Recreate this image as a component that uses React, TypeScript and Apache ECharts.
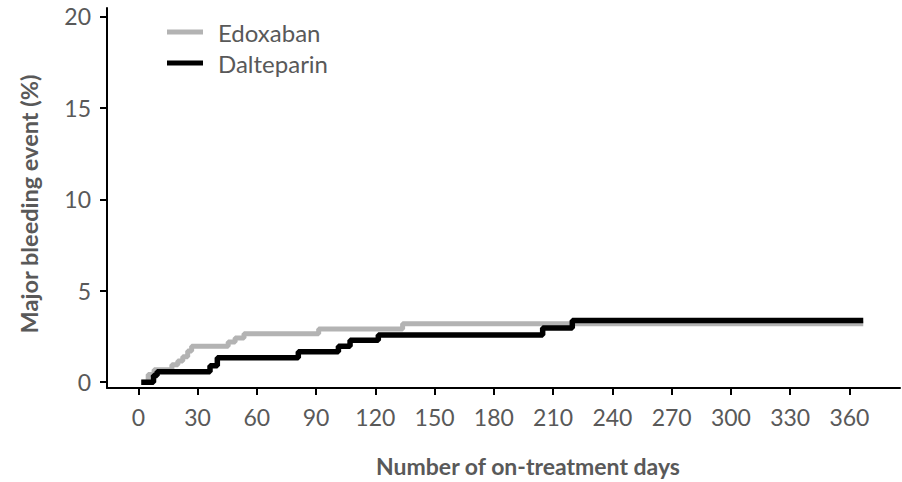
import React, { useEffect, useRef } from "react";
import * as echarts from "echarts";

const seriesNames = ["Edoxaban", "Dalteparin"];
const edoxabanDays = [1.5, 5, 8, 17, 20, 22.5, 25, 27, 45.5, 49, 53.5, 91.3, 133.8, 367];
const edoxabanValues = [0, 0.42, 0.68, 0.95, 1.16, 1.39, 1.7, 1.96, 2.2, 2.41, 2.64, 2.91, 3.2, 3.2];
const dalteparinDays = [1.5, 7.7, 9.5, 36.3, 40, 81, 101.3, 107.2, 121.5, 204.7, 219.7, 367];
const dalteparinValues = [0, 0.36, 0.57, 0.89, 1.34, 1.66, 1.96, 2.29, 2.58, 2.96, 3.37, 3.37];
const xTicks = [0, 30, 60, 90, 120, 150, 180, 210, 240, 270, 300, 330, 360];
const yTicks = [0, 5, 10, 15, 20];
const xTitle = "Number of on-treatment days";
const yTitle = "Major bleeding event (%)";

const FONT = "Lato, 'Open Sans', sans-serif";
const TEXT_COLOR = "#595959";

export default function App() {
  const ref = useRef<HTMLDivElement>(null);
  useEffect(() => {
    if (!ref.current) return;
    const chart = echarts.init(ref.current, null, { renderer: "svg" });
    const edoData = edoxabanDays.map((d, i) => [d, edoxabanValues[i]]);
    const dalData = dalteparinDays.map((d, i) => [d, dalteparinValues[i]]);
    chart.setOption({
      animation: false,
      backgroundColor: "#ffffff",
      textStyle: { fontFamily: FONT },
      grid: { left: 107, right: 2, top: 8, bottom: 86, containLabel: false },
      legend: {
        orient: "vertical",
        left: 162,
        top: 15,
        padding: 5,
        itemWidth: 36,
        itemHeight: 5,
        itemGap: 7,
        icon: "rect",
        data: seriesNames,
        textStyle: {
          fontFamily: FONT,
          fontSize: 24,
          color: TEXT_COLOR,
          padding: [0, 0, 0, 10],
          lineHeight: 24,
        },
      },
      xAxis: {
        type: "value",
        min: -15.85,
        max: 385.6,
        name: xTitle,
        nameLocation: "middle",
        nameGap: 66,
        nameTextStyle: {
          fontFamily: FONT,
          fontSize: 23,
          fontWeight: "bold",
          color: TEXT_COLOR,
          padding: [0, 0, 0, 49],
        },
        axisLine: { show: true, onZero: false, lineStyle: { color: "#000", width: 2 } },
        axisTick: { show: true, length: 7, customValues: xTicks, lineStyle: { color: "#000", width: 2 } },
        axisLabel: { customValues: xTicks, margin: 17, fontSize: 23, fontFamily: FONT, color: TEXT_COLOR },
        splitLine: { show: false },
      },
      yAxis: {
        type: "value",
        min: -0.32,
        max: 20.46,
        name: yTitle,
        nameLocation: "middle",
        nameGap: 66,
        nameTextStyle: {
          fontFamily: FONT,
          fontSize: 23.5,
          fontWeight: "bold",
          color: TEXT_COLOR,
          padding: [0, 12, 0, 0],
        },
        axisLine: { show: true, onZero: false, lineStyle: { color: "#000", width: 2 } },
        axisTick: { show: true, length: 7, customValues: yTicks, lineStyle: { color: "#000", width: 2 } },
        axisLabel: { customValues: yTicks, margin: 16, fontSize: 23, fontFamily: FONT, color: TEXT_COLOR },
        splitLine: { show: false },
      },
      series: [
        {
          name: seriesNames[0],
          type: "line",
          step: "end",
          data: edoData,
          showSymbol: false,
          symbol: "none",
          lineStyle: { color: "#b3b3b3", width: 5 },
          itemStyle: { color: "#b3b3b3" },
          z: 2,
        },
        {
          name: seriesNames[1],
          type: "line",
          step: "end",
          data: dalData,
          showSymbol: false,
          symbol: "none",
          lineStyle: { color: "#000000", width: 5.5 },
          itemStyle: { color: "#000000" },
          z: 3,
        },
      ],
    });
    return () => chart.dispose();
  }, []);
  return (
    <div
      ref={ref}
      style={{ position: "absolute", left: 0, top: 0, width: 902, height: 482 }}
    />
  );
}
